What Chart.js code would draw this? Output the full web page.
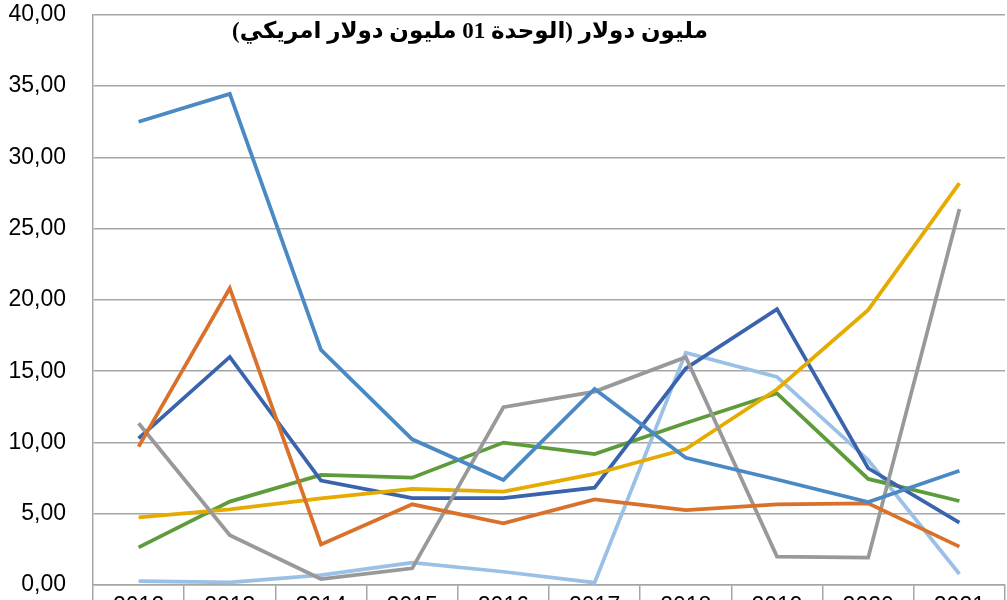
<!DOCTYPE html>
<html>
<head>
<meta charset="utf-8">
<script src="https://cdn.jsdelivr.net/npm/chart.js@4.4.1/dist/chart.umd.min.js"></script>
<style>
  html, body { margin: 0; padding: 0; background: #fff; overflow: hidden; }
  /* the y tick padding pushes the plot down, so the canvas is lifted a bit */
  #wrap { width: 1007px; height: 656px; position: relative; margin-top: -26px; }
</style>
</head>
<body>
<div id="wrap"><canvas id="lineChart"></canvas></div>
<script>
const years = ['2012', '2013', '2014', '2015', '2016', '2017', '2018', '2019', '2020', '2021'];

const steelBlue = [32.5, 34.45, 16.49, 10.22, 7.37, 13.75, 8.93, 7.4, 5.82, 8.02];
const orange    = [9.71, 20.82, 2.85, 5.66, 4.33, 6.0, 5.26, 5.66, 5.73, 2.69];
const grey      = [11.35, 3.49, 0.42, 1.17, 12.47, 13.57, 15.98, 1.99, 1.92, 26.37];
const gold      = [4.75, 5.31, 6.08, 6.74, 6.55, 7.79, 9.54, 13.73, 19.3, 28.19];
const darkBlue  = [10.29, 16.0, 7.32, 6.1, 6.1, 6.83, 15.2, 19.35, 8.19, 4.37];
const green     = [2.64, 5.85, 7.72, 7.53, 9.99, 9.19, 11.36, 13.45, 7.44, 5.89];
const lightBlue = [0.28, 0.19, 0.7, 1.57, 0.93, 0.16, 16.3, 14.6, 8.77, 0.77];

const yMin = 0, yMax = 40, yStep = 5;
const titleText = 'مليون دولار (الوحدة 01 مليون دولار امريكي)';

function series(data, color) {
    return {
        data: data,
        borderColor: color,
        backgroundColor: color,
        borderWidth: 3.75,
        pointRadius: 0,
        tension: 0,
        fill: false
    };
}

// title sits inside the plot area, over the top gridline
const innerTitle = {
    id: 'innerTitle',
    afterDraw(chart) {
        const ctx = chart.ctx;
        ctx.save();
        ctx.direction = 'rtl';
        ctx.textAlign = 'right';
        ctx.textBaseline = 'middle';
        ctx.fillStyle = '#000';
        ctx.font = "bold 23px 'Liberation Serif', 'DejaVu Sans'";
        ctx.fillText(titleText, 708, chart.chartArea.top + 17);
        ctx.restore();
    }
};

const ctx = document.getElementById('lineChart').getContext('2d');

new Chart(ctx, {
    type: 'line',
    data: {
        labels: years,
        datasets: [
            series(steelBlue, '#4a89c3'),
            series(orange, '#d9712b'),
            series(grey, '#999999'),
            series(gold, '#e5ab00'),
            series(darkBlue, '#3a63ad'),
            series(green, '#5e9c3b'),
            series(lightBlue, '#9bc0e6')
        ]
    },
    options: {
        responsive: true,
        maintainAspectRatio: false,
        animation: false,
        layout: { padding: { top: 0, right: 2, left: 0, bottom: 0 } },
        scales: {
            x: {
                offset: true,
                grid: {
                    offset: true,
                    drawOnChartArea: false,
                    drawTicks: true,
                    tickLength: 30,
                    color: '#a6a6a6',
                    lineWidth: 1.5
                },
                border: { color: '#a6a6a6', width: 1.5 },
                ticks: {
                    color: '#000',
                    padding: -22,
                    font: { family: "'Liberation Sans', sans-serif", size: 23 }
                },
                afterFit: function(scale) { scale.height = 45; }
            },
            y: {
                min: yMin,
                max: yMax,
                grid: {
                    drawTicks: false,
                    color: '#a6a6a6',
                    lineWidth: 1.5
                },
                border: { color: '#a6a6a6', width: 1.5 },
                ticks: {
                    stepSize: yStep,
                    color: '#000',
                    padding: 27,
                    font: { family: "'Liberation Sans', sans-serif", size: 23 },
                    callback: function(value) {
                        return value.toFixed(2).replace('.', ',');
                    }
                },
                afterFit: function(scale) { scale.width = 93; }
            }
        },
        plugins: {
            legend: { display: false },
            tooltip: { enabled: false }
        }
    },
    plugins: [innerTitle]
});
</script>
</body>
</html>
